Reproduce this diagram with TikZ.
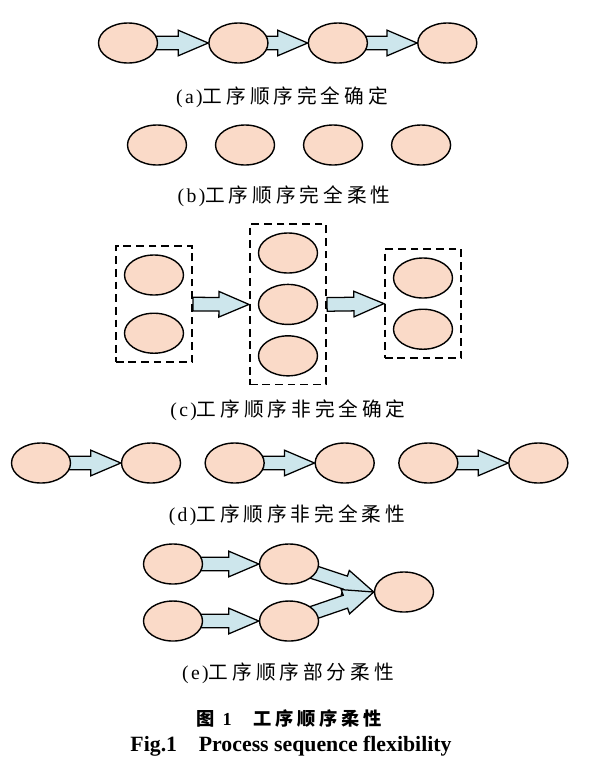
\documentclass[tikz,border=0pt]{standalone}
\usepackage{fontspec}
\setmainfont{Liberation Serif}
\newfontfamily\cjk{Noto Sans CJK SC}[LetterSpace=20]
\newfontfamily\latcap{Liberation Serif}[LetterSpace=12]
\usetikzlibrary{positioning, shapes.geometric, calc, fit, backgrounds}
\definecolor{ellfill}{RGB}{250,218,200}
\definecolor{arrfill}{RGB}{205,230,236}
\tikzset{
    proc/.style={
        ellipse,
        draw,
        line width=1pt,
        fill=ellfill,
        minimum width=1.475cm,
        minimum height=1cm,
        inner sep=0pt
    },
    group/.style={
        draw,
        line width=1.2pt,
        dash pattern=on 5.5pt off 3.5pt,
        inner sep=0.2cm
    },
    flow/.style={draw, line width=0.9pt, fill=arrfill, line join=miter},
    caption/.style={font=\fontsize{14pt}{16pt}\selectfont, inner sep=0pt},
    title/.style={font=\fontsize{13pt}{15pt}\selectfont\bfseries, inner sep=0pt},
    entitle/.style={font=\fontsize{15.5pt}{17pt}\selectfont\bfseries, inner sep=0pt}
}
% block arrow from #1 to #2, tip at #2
\newcommand{\blockarrow}[2]{%
  \path (#1) coordinate (arrs) (#2) coordinate (arre);
  \path ($(arre)!0.75cm!(arrs)$) coordinate (arrh);
  \draw[flow] ($(arrs)!0.17cm!90:(arre)$) -- ($(arrh)!0.17cm!90:(arre)$)
    -- ($(arrh)!0.32cm!90:(arre)$) -- (arre) -- ($(arrh)!0.32cm!-90:(arre)$)
    -- ($(arrh)!0.17cm!-90:(arre)$) -- ($(arrs)!0.17cm!-90:(arre)$) -- cycle;
}

\begin{document}
\begin{tikzpicture}[x=0.025cm, y=-0.025cm, node distance=0.69cm]
\useasboundingbox (0,0) rectangle (600,772);

% (a) fully fixed
\node[proc] (a1) at (128,43) {};
\node[proc, right=1.25cm of a1] (a2) {};
\node[proc, right=0.975cm of a2] (a3) {};
\node[proc, right=1.225cm of a3] (a4) {};
\node[caption] (capa) at (282,97) {\latcap(a)\cjk 工序顺序完全确定};

% (b) fully flexible
\node[proc] (b1) at (157,145) {};
\node[proc, right=of b1] (b2) {};
\node[proc, right=of b2] (b3) {};
\node[proc, right=of b3] (b4) {};
\node[caption] (capb) at (284,196) {\latcap(b)\cjk 工序顺序完全柔性};

% (c) partly fixed groups
\node[proc] (c1) at (154,275) {};
\node[proc, below=0.42cm of c1] (c2) {};
\node[proc] (m1) at (288,253) {};
\node[proc, below=0.25cm of m1] (m2) {};
\node[proc, below=0.25cm of m2] (m3) {};
\node[proc] (r1) at (423,278) {};
\node[proc, below=0.245cm of r1] (r2) {};
\node[group, fit=(c1)(c2)] (lbox) {};
\node[group, fit=(m1)(m3)] (mbox) {};
\node[group, fit=(r1)(r2)] (rbox) {};
\node[caption] (capc) at (288,410) {\latcap(c)\cjk 工序顺序非完全确定};

% (d) partly flexible chains
\node[proc] (d1) at (41,463) {};
\node[proc, right=1.24cm of d1] (d2) {};
\node[proc, right=0.58cm of d2] (d3) {};
\node[proc, right=1.24cm of d3] (d4) {};
\node[proc, right=0.58cm of d4] (d5) {};
\node[proc, right=1.24cm of d5] (d6) {};
\node[caption] (capd) at (287,515) {\latcap(d)\cjk 工序顺序非完全柔性};

% (e) partial flexibility
\node[proc] (e1) at (173,564) {};
\node[proc, right=1.39cm of e1] (e2) {};
\node[proc, below=0.39cm of e1] (e3) {};
\node[proc, right=1.39cm of e3] (e4) {};
\node[proc] (e5) at (404,592) {};
\node[caption] (cape) at (288,673) {\latcap(e)\cjk 工序顺序部分柔性};

\node[title] (fig) at (289,718) {{\cjk 图}\hspace{0.45em}1\hspace{1.2em}{\cjk 工序顺序柔性}};
\node[entitle] (figen) at (291,746) {Fig.1\quad Process sequence flexibility};

\begin{scope}[on background layer]
\blockarrow{a1.center}{a2.west}
\blockarrow{a2.center}{a3.west}
\blockarrow{a3.center}{a4.west}
\blockarrow{lbox.east}{mbox.west}
\blockarrow{mbox.east}{rbox.west}
\blockarrow{d1.center}{d2.west}
\blockarrow{d3.center}{d4.west}
\blockarrow{d5.center}{d6.west}
\blockarrow{e1.center}{e2.west}
\blockarrow{e3.center}{e4.west}
\blockarrow{e2.center}{e5.west}
\blockarrow{e4.center}{e5.west}
\end{scope}
\end{tikzpicture}
\end{document}
